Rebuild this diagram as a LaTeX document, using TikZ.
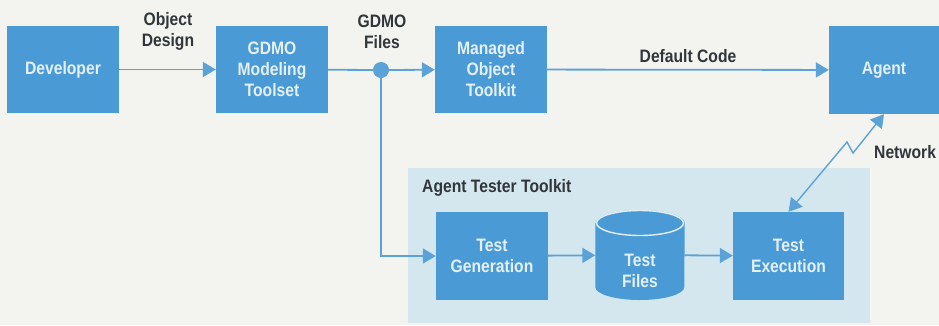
\documentclass[tikz,border=0pt]{standalone}
\usepackage{fontspec}
\setmainfont{Liberation Sans}[FakeStretch=0.87]
\usetikzlibrary{arrows.meta}
\definecolor{bgc}{HTML}{F3F4F0}
\definecolor{panelc}{HTML}{D5E7EE}
\definecolor{boxc}{HTML}{4A9BD5}
\definecolor{linec}{HTML}{5AA2D8}
\definecolor{boxtext}{HTML}{E4EFF8}
\definecolor{labtext}{HTML}{30363A}
\begin{document}
\begin{tikzpicture}[x=1pt,y=-1pt,
  box/.style={rectangle, fill=boxc, text=boxtext, align=center, inner sep=0pt,
    minimum width=112pt, minimum height=87pt,
    font=\fontsize{18pt}{21pt}\selectfont\bfseries},
  lab/.style={text=labtext, align=center, inner sep=0pt,
    font=\fontsize{18pt}{21pt}\selectfont\bfseries},
  conn/.style={draw=linec, line width=1.8pt},
  arr/.style={conn, -{Triangle[length=13pt,width=15pt]}},
  arrboth/.style={conn, {Triangle[length=13pt,width=15pt]}-{Triangle[length=13pt,width=15pt]}}
]
\useasboundingbox (0,0) rectangle (939,325);
\fill[bgc] (0,0) rectangle (939,325);
% panel
\fill[panelc] (408,168) rectangle (870,323);
\node[lab, anchor=west] (atk) at (422,188) {Agent Tester Toolkit};

% top row
\node[box] (dev) at (63,69.5) {Developer};
\node[box] (gdmo) at (272,69.5) {GDMO\\Modeling\\Toolset};
\node[box] (mot) at (491,69.5) {Managed\\Object\\Toolkit};
\node[box, minimum width=110pt, minimum height=88pt] (agent) at (884,70) {Agent};
\node[circle, fill=linec, minimum size=16pt, inner sep=0pt] (dot) at (381,70) {};

\node[lab] (objdes) at (168,31.5) {Object\\Design};
\node[lab] (gfiles) at (382,31.5) {GDMO\\Files};
\node[lab] (dcode) at (688,56) {Default Code};
\node[lab, anchor=west] (net) at (874,152) {Network};

% bottom row
\node[box, minimum height=88pt] (tg) at (492,256) {Test\\Generation};
\node[box, minimum width=111pt, minimum height=88pt] (te) at (788.5,256) {Test\\Execution};
\node[rectangle, minimum width=89pt, minimum height=90pt, inner sep=0pt] (tf) at (640,255) {};
% cylinder
\fill[boxc] (tf.west |- 0,223) -- (tf.west |- 0,287)
  arc[start angle=180, end angle=360, x radius=44.5pt, y radius=13pt]
  -- (tf.east |- 0,223)
  arc[start angle=0, end angle=180, x radius=44.5pt, y radius=13pt] -- cycle;
\draw[draw=boxtext, line width=1.4pt, fill=boxc] (tf.center |- 0,223) ellipse[x radius=43.5pt, y radius=12.5pt];
\node[lab, text=boxtext] (tflab) at (640,271) {Test\\Files};

% connectors
\draw[arr] (dev) -- (gdmo);
\draw[conn] (gdmo) -- (dot);
\draw[arr] (dot) -- (mot);
\draw[arr] (mot) -- (agent);
\draw[arr] (dot) |- (tg);
\draw[arr] (tg) -- (tf);
\draw[arr] (tf) -- (te);
\coordinate (z1) at (847,142);
\coordinate (z2) at (853,153);
\draw[arrboth, line width=1.4pt] (te.north) -- (z1) -- (z2) -- (agent.south);
\end{tikzpicture}
\end{document}
